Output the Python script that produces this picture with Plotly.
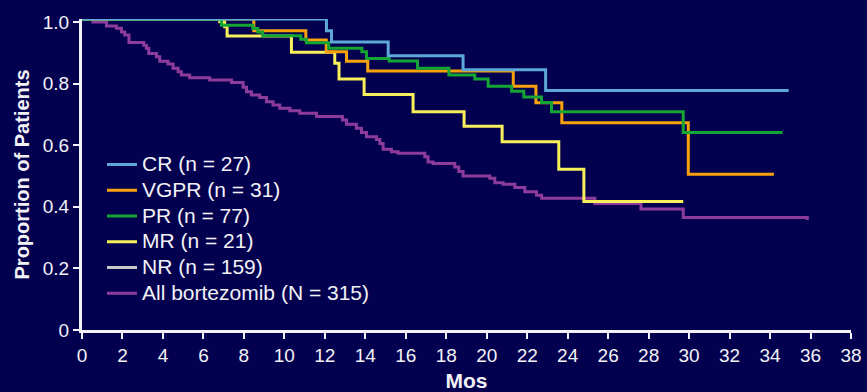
import plotly.graph_objects as go

# ---- data ----
cr_months = [0, 12.08, 12.33, 15.13, 18.83, 22.91, 34.92]
cr_prop = [1.010, 0.972, 0.935, 0.891, 0.845, 0.778, 0.778]

vgpr_months = [0, 8.49, 11.06, 12.07, 13.07, 14.12, 21.31, 22.43, 23.71, 29.96, 34.19]
vgpr_prop = [1.010, 0.972, 0.942, 0.904, 0.873, 0.841, 0.792, 0.738, 0.673, 0.506, 0.506]

pr_months = [0, 6.89, 8.44, 8.69, 8.93, 10.81, 11.09, 12.19, 13.83, 14.06, 15.18,
             16.58, 18.13, 19.41, 20.07, 21.23, 21.83, 22.71, 23.20, 29.71, 34.62]
pr_prop = [1.010, 0.990, 0.979, 0.968, 0.956, 0.944, 0.933, 0.915, 0.904, 0.882, 0.874,
           0.850, 0.828, 0.815, 0.792, 0.775, 0.757, 0.739, 0.709, 0.641, 0.641]

mr_months = [0, 6.81, 7.05, 7.17, 10.35, 12.49, 12.70, 13.94, 16.36, 18.88, 20.76,
             23.56, 24.80, 29.71]
mr_prop = [1.010, 1.001, 0.985, 0.955, 0.902, 0.866, 0.815, 0.765, 0.709, 0.662, 0.611,
           0.522, 0.417, 0.417]

# NR curve is listed in the legend but not drawn in the reference
nr_months = [None]
nr_prop = [None]

all_months = [0, 0.54, 1.21, 1.70, 1.95, 2.11, 2.32, 3.05, 3.18, 3.30, 3.68, 3.84, 4.25,
              4.50, 4.75, 4.91, 5.32, 6.31, 7.39, 7.96, 8.13, 8.37, 8.78, 9.12, 9.44,
              9.77, 10.27, 10.76, 11.59, 12.87, 13.07, 13.56, 13.81, 14.06, 14.55,
              14.72, 14.88, 15.29, 15.62, 16.94, 17.10, 17.35, 18.42, 18.62, 18.83,
              20.15, 20.40, 20.81, 21.39, 21.88, 22.46, 22.71, 25.34, 27.62, 29.71, 35.84]
all_prop = [1.010, 1.000, 0.987, 0.980, 0.968, 0.958, 0.934, 0.925, 0.915, 0.898, 0.887,
            0.873, 0.864, 0.850, 0.839, 0.828, 0.819, 0.812, 0.804, 0.788, 0.774, 0.763,
            0.755, 0.741, 0.731, 0.720, 0.712, 0.704, 0.693, 0.682, 0.668, 0.655, 0.641,
            0.628, 0.619, 0.606, 0.587, 0.579, 0.574, 0.563, 0.546, 0.541, 0.529, 0.515,
            0.500, 0.493, 0.478, 0.473, 0.463, 0.449, 0.438, 0.428, 0.411, 0.393, 0.365,
            0.357]

x_ticks = list(range(0, 39, 2))
y_ticks = [0, 0.2, 0.4, 0.6, 0.8, 1.0]
y_tick_labels = ["0", "0.2", "0.4", "0.6", "0.8", "1.0"]

BG = "#03004f"
FONT = "Liberation Sans, Arial, sans-serif"
WHITE = "#f2f2f6"

series = [
    # name, x, y, color, legend rank  (drawing order = list order)
    ("All bortezomib (N = 315)", all_months, all_prop, "#8e3c9c", 6),
    ("NR (n = 159)", nr_months, nr_prop, "#c9c9c9", 5),
    ("MR (n = 21)", mr_months, mr_prop, "#f7f05a", 4),
    ("VGPR (n = 31)", vgpr_months, vgpr_prop, "#f7a10c", 2),
    ("PR (n = 77)", pr_months, pr_prop, "#15a535", 3),
    ("CR (n = 27)", cr_months, cr_prop, "#5ca9d8", 1),
]

fig = go.Figure()
for name, xs, ys, color, rank in series:
    fig.add_trace(go.Scatter(
        x=xs, y=ys, mode="lines",
        name='<span style="font-size:21px">' + name + '</span>',
        line=dict(color=color, width=3, shape="hv"),
        legendrank=rank, showlegend=True, hoverinfo="x+y",
    ))

fig.update_layout(
    width=867, height=392,
    margin=dict(l=82, r=16, t=19, b=62, autoexpand=False),
    paper_bgcolor=BG, plot_bgcolor=BG,
    font=dict(family=FONT, color=WHITE, size=19),
    showlegend=True,
    legend=dict(
        x=0.026, y=0.59, xanchor="left", yanchor="top",
        bgcolor="rgba(0,0,0,0)", borderwidth=0,
        font=dict(family=FONT, size=17.5, color=WHITE),
        tracegroupgap=0, itemwidth=30,
    ),
    xaxis=dict(
        range=[0, 38], tickvals=x_ticks, ticktext=[str(v) for v in x_ticks],
        automargin=False,
        showgrid=False, zeroline=False, showline=True, linecolor=WHITE, linewidth=3,
        ticks="outside", ticklen=6, tickwidth=2, tickcolor=WHITE,
        tickfont=dict(family=FONT, size=19, color=WHITE),
        title=dict(text="<b>Mos</b>", font=dict(family=FONT, size=21, color=WHITE), standoff=12),
    ),
    yaxis=dict(
        range=[0, 1.01], tickvals=y_ticks, ticktext=y_tick_labels,
        automargin=False,
        showgrid=False, zeroline=False, showline=True, linecolor=WHITE, linewidth=3,
        ticks="outside", ticklen=6, tickwidth=2, tickcolor=WHITE,
        tickfont=dict(family=FONT, size=19, color=WHITE),
        title=dict(text="<b>Proportion of Patients</b>", font=dict(family=FONT, size=20, color=WHITE), standoff=8),
    ),
)

# remove the browser's default page margin so the 867x392 figure fills the window
fig.write_html(
    "out.html",
    config={"displayModeBar": False},
    post_script="document.body.style.margin='0';document.body.style.overflow='hidden';"
                "document.body.style.background='" + BG + "';",
)
